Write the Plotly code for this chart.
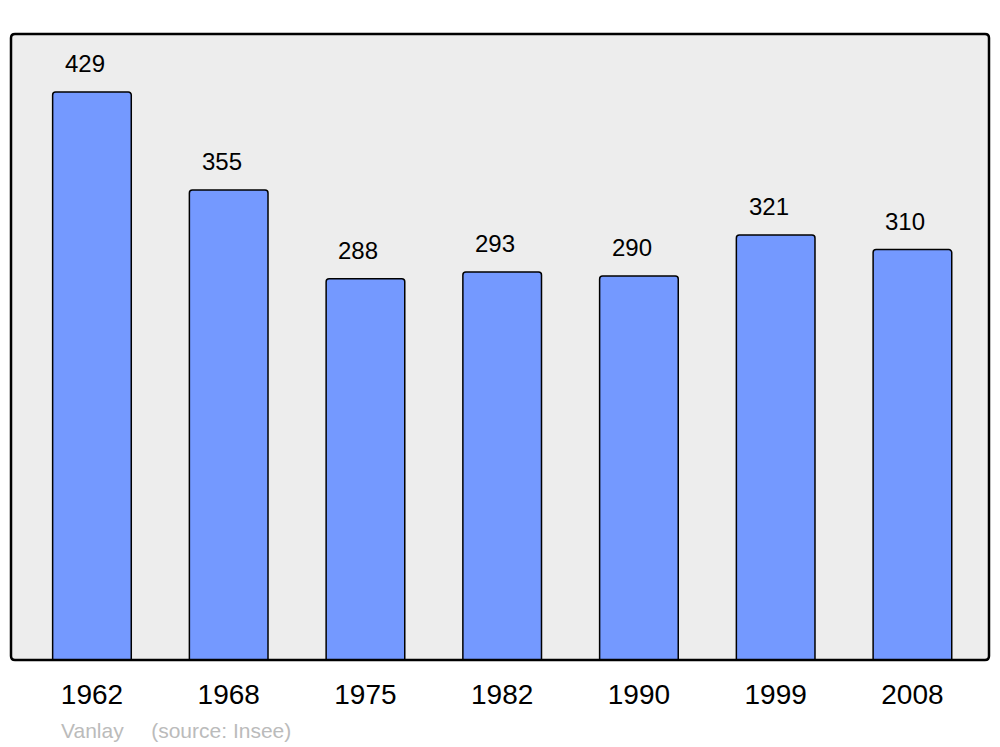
import plotly.graph_objects as go

years = ["1962", "1968", "1975", "1982", "1990", "1999", "2008"]
population = [429, 355, 288, 293, 290, 321, 310]
footer_text = "Vanlay    \u2009(source: Insee)"

W, H = 1000, 747
L, R, T, B = 11, 11, 34, 87
FONT = "Liberation Sans, Arial, sans-serif"

fig = go.Figure()
fig.add_trace(go.Bar(
    x=years, y=population,
    width=0.575,
    marker=dict(color="#7499FF", line=dict(color="#000000", width=1.5), cornerradius=3),
    hoverinfo="x+y",
))

for i, v in enumerate(population):
    fig.add_annotation(x=i, y=v, text=str(v), showarrow=False,
                       yanchor="bottom", yshift=13, xshift=-7,
                       font=dict(size=24, color="#000000", family=FONT))

fig.add_annotation(xref="paper", yref="paper", x=(59 - L) / (W - L - R), y=-(730 - 660) / (H - T - B),
                   xanchor="left", yanchor="middle", showarrow=False, text=footer_text,
                   font=dict(size=21, color="#BBBBBB", family=FONT))

# rounded border of plot area
rx = 4 / (W - L - R)
ry = 4 / (H - T - B)
path = (f"M {rx},0 L {1-rx},0 Q 1,0 1,{ry} L 1,{1-ry} Q 1,1 {1-rx},1 "
        f"L {rx},1 Q 0,1 0,{1-ry} L 0,{ry} Q 0,0 {rx},0 Z")
fig.add_shape(type="path", xref="paper", yref="paper", path=path,
              line=dict(color="#000000", width=2.5), fillcolor="rgba(0,0,0,0)", layer="above")

fig.update_layout(
    width=W, height=H,
    margin=dict(l=L, r=R, t=T, b=B),
    paper_bgcolor="#FFFFFF",
    plot_bgcolor="#EDEDED",
    showlegend=False,
    font=dict(family=FONT, color="#000000"),
    xaxis=dict(type="category", range=[-0.592, 6.56], showgrid=False, zeroline=False,
               ticks="", showline=False, tickfont=dict(size=28, color="#000000"),
               ticklabelstandoff=15, fixedrange=True),
    yaxis=dict(range=[0, 472.8], showgrid=False, zeroline=False, showticklabels=False,
               ticks="", showline=False, fixedrange=True),
)

fig.write_html("out.html", config={"displayModeBar": False},
               post_script="document.body.style.margin='0';document.body.style.overflow='hidden';")
